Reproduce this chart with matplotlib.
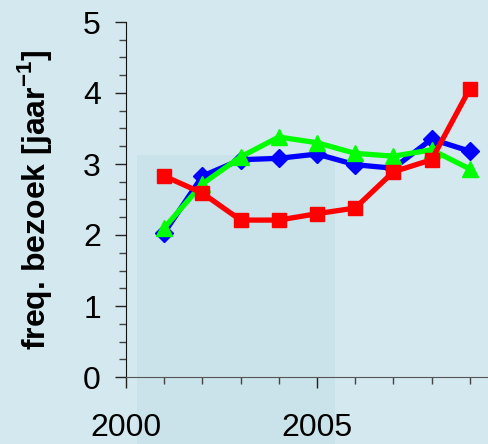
import matplotlib.pyplot as plt
from matplotlib.patches import Rectangle

# data
years = [2001, 2002, 2003, 2004, 2005, 2006, 2007, 2008, 2009]
blue_vals = [2.03, 2.83, 3.06, 3.08, 3.14, 2.99, 2.94, 3.35, 3.18]
green_vals = [2.10, 2.72, 3.10, 3.38, 3.30, 3.15, 3.11, 3.20, 2.93]
red_vals = [2.83, 2.59, 2.21, 2.21, 2.30, 2.38, 2.89, 3.06, 4.06]
x_labels = [2000, 2005]
y_ticks = [0, 1, 2, 3, 4, 5]

plt.rcParams['font.family'] = ['Liberation Sans', 'DejaVu Sans']
plt.rcParams['mathtext.fontset'] = 'custom'
plt.rcParams['mathtext.rm'] = 'Liberation Sans'
plt.rcParams['mathtext.bf'] = 'Liberation Sans:bold'

bg = '#d4e8ef'
fig = plt.figure(figsize=(4.88, 4.44), dpi=100, facecolor=bg)

# slightly darker panel behind the plot
fig.patches.append(Rectangle((137 / 488, 0), (335 - 137) / 488, (444 - 155) / 444,
                             transform=fig.transFigure, facecolor='#cae2ea',
                             edgecolor='none', zorder=0))

ax = fig.add_axes([126 / 488, (444 - 377) / 444, (488 - 126) / 488, (377 - 22) / 444])
ax.set_facecolor('none')
ax.set_zorder(2)

ax.plot(years, blue_vals, color='#0000ff', lw=3.8, marker='D', ms=9, clip_on=False, zorder=3)
ax.plot(years, green_vals, color='#00ff00', lw=3.8, marker='^', ms=11, clip_on=False, zorder=4)
ax.plot(years, red_vals, color='#ff0000', lw=3.8, marker='s', ms=10, clip_on=False, zorder=5)

ax.set_xlim(2000, 2000 + (488 - 126) / 38.2)
ax.set_ylim(0, 5)

ax.set_xticks(x_labels)
ax.set_xticks(range(2000, 2010), minor=True)
ax.set_yticks(y_ticks)
ax.set_yticks([i * 0.25 for i in range(21)], minor=True)

ax.tick_params(axis='both', which='major', length=8, width=1.0, labelsize=23, color='#222222')
ax.tick_params(axis='both', which='minor', length=5, width=1.0, color='#444444')
ax.tick_params(axis='x', which='major', pad=18)
ax.tick_params(axis='y', which='major', pad=10)

for s in ['top', 'right']:
    ax.spines[s].set_visible(False)
ax.spines['left'].set_color('#111111')
ax.spines['bottom'].set_color('#555555')

ax.set_ylabel(r'freq. bezoek [jaar$^{\mathbf{-1}}$]', fontsize=23, fontweight='bold')
ax.yaxis.set_label_coords(-0.2, 0.5)

fig.savefig('out.png', dpi=100, facecolor=bg)
